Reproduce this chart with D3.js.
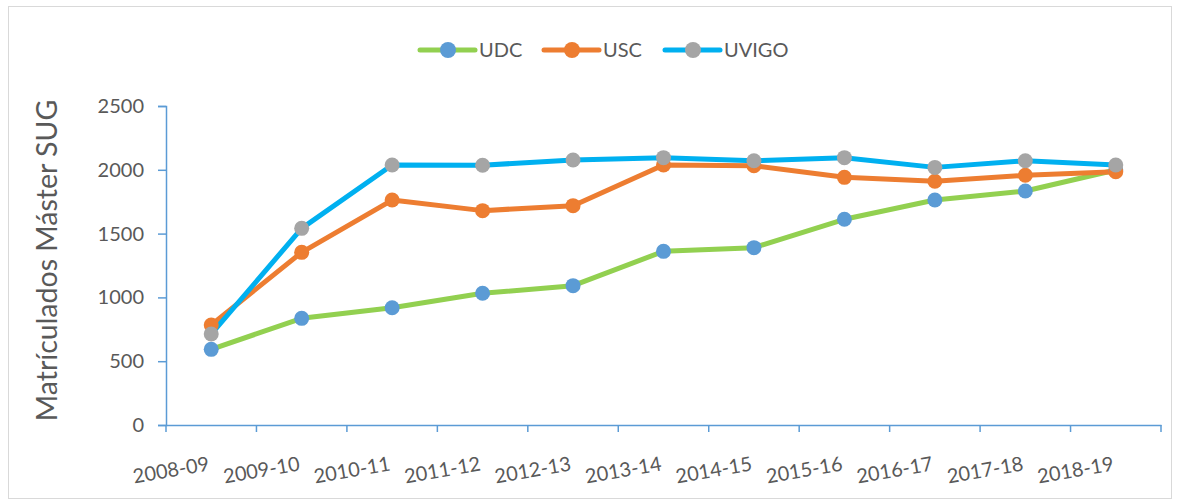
<!DOCTYPE html>
<html>
<head>
  <meta charset="utf-8">
  <script src="https://cdnjs.cloudflare.com/ajax/libs/d3/7.8.5/d3.min.js"></script>
  <style>
    body { margin: 0; background: #fff; }
    svg text { font-family: Lato, "Open Sans", sans-serif; fill: #595959; }
  </style>
</head>
<body>
  <div id="chart"></div>

  <script>
    const years = ['2008-09', '2009-10', '2010-11', '2011-12', '2012-13', '2013-14',
                   '2014-15', '2015-16', '2016-17', '2017-18', '2018-19'];
    const udc   = [593, 836, 919, 1032, 1092, 1361, 1390, 1612, 1763, 1834, 1998];
    const usc   = [784, 1353, 1763, 1680, 1719, 2038, 2032, 1941, 1910, 1957, 1985];
    const uvigo = [713, 1541, 2038, 2036, 2077, 2095, 2071, 2095, 2019, 2071, 2038];
    const yTicks = [0, 500, 1000, 1500, 2000, 2500];

    const series = [
      { name: 'UDC',   values: udc,   line: '#92D050', dot: '#5B9BD5' },
      { name: 'USC',   values: usc,   line: '#ED7D31', dot: '#ED7D31' },
      { name: 'UVIGO', values: uvigo, line: '#00B0F0', dot: '#A5A5A5' }
    ];

    const width = 1181, height = 503;
    const plotLeft = 166, plotRight = 1161, plotTop = 106, plotBottom = 425;

    const svg = d3.select('#chart').append('svg')
      .attr('width', width)
      .attr('height', height);

    svg.append('rect')
      .attr('x', 8.5).attr('y', 6.5)
      .attr('width', 1163).attr('height', 492)
      .attr('fill', 'none').attr('stroke', '#D9D9D9');

    const x = d3.scaleBand().domain(years).range([plotLeft, plotRight]);
    const y = d3.scaleLinear().domain([0, 2500]).range([plotBottom, plotTop]);
    const cx = d => x(d) + x.bandwidth() / 2;

    // y axis
    const yAxis = svg.append('g')
      .attr('transform', `translate(${plotLeft},0)`)
      .call(d3.axisLeft(y).tickValues(yTicks).tickFormat(d3.format('d')).tickSize(8).tickPadding(14));
    yAxis.select('.domain').attr('stroke', '#5B9BD5').attr('stroke-width', 1.5);
    yAxis.selectAll('.tick line').attr('stroke', '#5B9BD5').attr('stroke-width', 1.5);
    yAxis.selectAll('.tick text').style('font-size', '20px').attr('fill', '#595959');

    // x axis
    const xAxis = svg.append('g')
      .attr('transform', `translate(0,${plotBottom})`)
      .call(d3.axisBottom(x).tickSize(0).tickFormat(''));
    xAxis.select('.domain').attr('stroke', '#5B9BD5').attr('stroke-width', 1.5);
    xAxis.selectAll('.tick').remove();

    const bounds = years.map(d => x(d)).concat([plotRight]);
    svg.append('g').selectAll('line')
      .data(bounds)
      .join('line')
      .attr('x1', d => d).attr('x2', d => d)
      .attr('y1', plotBottom).attr('y2', plotBottom + 7)
      .attr('stroke', '#5B9BD5').attr('stroke-width', 1.5);

    svg.append('g').selectAll('text')
      .data(years)
      .join('text')
      .attr('transform', d => `translate(${x(d) + 5},${470}) rotate(-10)`)
      .attr('text-anchor', 'middle')
      .attr('dy', '0.35em')
      .style('font-size', '20px')
      .text(d => d);

    // axis title
    svg.append('text')
      .attr('transform', `translate(47,${(plotTop + plotBottom) / 2 - 5}) rotate(-90)`)
      .attr('text-anchor', 'middle')
      .attr('dy', '0.35em')
      .style('font-size', '28.5px')
      .text('Matrículados Máster SUG');

    // lines and markers
    const line = d3.line()
      .x((v, i) => cx(years[i]))
      .y(v => y(v));

    series.forEach(s => {
      svg.append('path')
        .datum(s.values)
        .attr('fill', 'none')
        .attr('stroke', s.line)
        .attr('stroke-width', 5)
        .attr('stroke-linejoin', 'round')
        .attr('d', line);
    });
    series.forEach(s => {
      svg.append('g').selectAll('circle')
        .data(s.values)
        .join('circle')
        .attr('cx', (v, i) => cx(years[i]))
        .attr('cy', v => y(v))
        .attr('r', 7.5)
        .attr('fill', s.dot);
    });

    // legend
    const legendX = [420, 544, 665];
    const legend = svg.append('g').selectAll('g')
      .data(series)
      .join('g')
      .attr('transform', (d, i) => `translate(${legendX[i]},50)`);
    legend.append('line')
      .attr('x1', 0).attr('x2', 55)
      .attr('stroke', d => d.line).attr('stroke-width', 5)
      .attr('stroke-linecap', 'round');
    legend.append('circle')
      .attr('cx', 28).attr('r', 8)
      .attr('fill', d => d.dot);
    legend.append('text')
      .attr('x', 59).attr('dy', '0.35em')
      .style('font-size', '20px')
      .text(d => d.name);
  </script>
</body>
</html>
